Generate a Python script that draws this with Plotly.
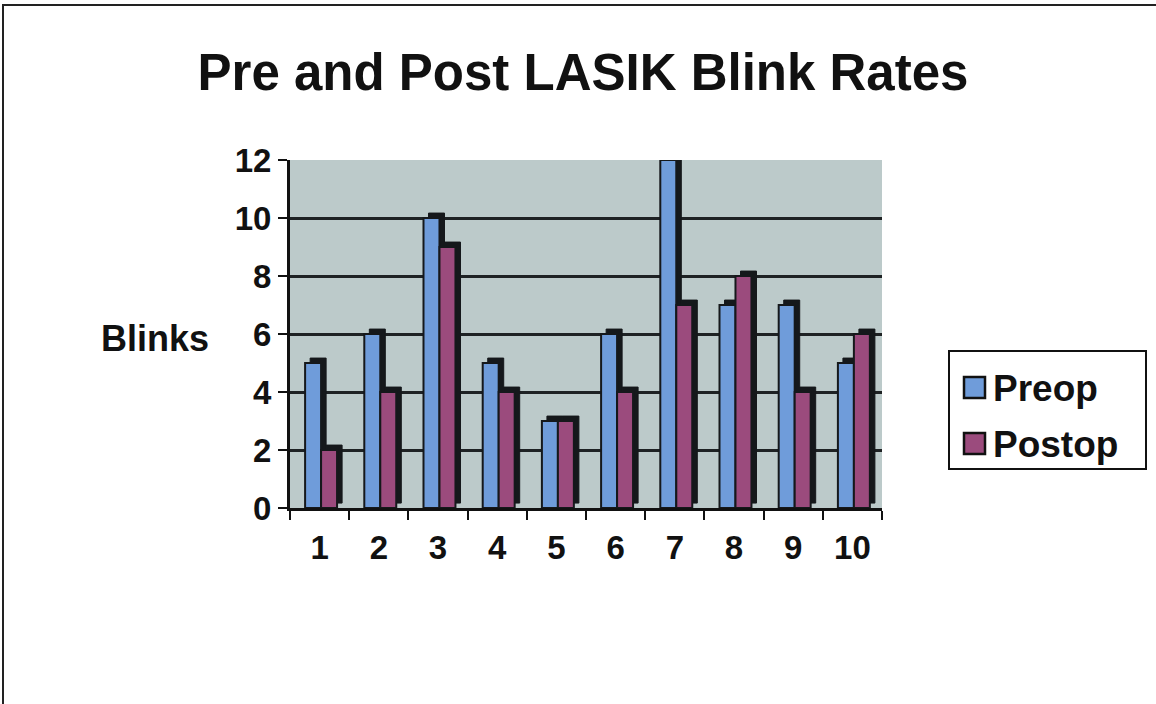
import plotly.graph_objects as go

# Blink counts per patient, before and after LASIK
patients = ["1", "2", "3", "4", "5", "6", "7", "8", "9", "10"]
preop = [5, 6, 10, 5, 3, 6, 12, 7, 7, 5]
postop = [2, 4, 9, 4, 3, 4, 7, 8, 4, 6]
y_ticks = [0, 2, 4, 6, 8, 10, 12]

W, H = 1156, 704
FONT = "Liberation Sans, Arial, sans-serif"
BLUE = "#6f9cda"
PLUM = "#9b4b7d"
EDGE = "#15181b"
WALL = "#bccaca"
INK = "#111111"

# pseudo-3D depth of the columns, in axis units
DX = 0.085
DY = 0.17
BAR_W = 0.27
OFF_PRE = -0.245
OFF_POST = 0.025

fig = go.Figure()

for vals, off, col, name in [(preop, OFF_PRE, BLUE, "Preop"), (postop, OFF_POST, PLUM, "Postop")]:
    # dark side/top face behind the front face
    fig.add_trace(go.Bar(
        x=patients, y=vals, base=DY, offset=off + DX, width=BAR_W,
        marker=dict(color=EDGE, line=dict(color=EDGE, width=1)),
        showlegend=False, hoverinfo="skip",
    ))
    # front face
    fig.add_trace(go.Bar(
        x=patients, y=vals, offset=off, width=BAR_W, name=name,
        marker=dict(color=col, line=dict(color=EDGE, width=2)),
        showlegend=False,
    ))

fig.update_layout(
    width=W, height=H,
    margin=dict(l=0, r=0, t=0, b=0, autoexpand=False),
    paper_bgcolor="white",
    plot_bgcolor=WALL,
    barmode="overlay",
    showlegend=False,
    font=dict(family=FONT, color=INK),
    title=dict(
        text="Pre and Post LASIK Blink Rates",
        x=583 / W, xanchor="center",
        y=1 - 72 / H, yanchor="middle",
        font=dict(family=FONT, size=51, weight="bold", color=INK),
        automargin=False,
    ),
    xaxis=dict(
        domain=[290 / W, 882 / W],
        type="category",
        range=[-0.5, 9.5],
        tickson="boundaries",
        ticks="outside", ticklen=9, tickwidth=2, tickcolor=INK,
        ticklabelstandoff=8,
        showline=True, linecolor=INK, linewidth=3,
        showgrid=False,
        automargin=False,
        tickfont=dict(family=FONT, size=33, weight="bold", color=INK),
    ),
    yaxis=dict(
        domain=[1 - 508 / H, 1 - 160 / H],
        range=[0, 12],
        tickvals=y_ticks,
        ticks="outside", ticklen=9, tickwidth=2, tickcolor=INK,
        showline=True, linecolor=INK, linewidth=3,
        showgrid=True, gridcolor="#1e2224", gridwidth=3,
        zeroline=False,
        automargin=False,
        tickfont=dict(family=FONT, size=33, weight="bold", color=INK),
    ),
)

shapes = []
annotations = []

# outer chart frame
shapes.append(dict(type="rect", xref="paper", yref="paper",
                   x0=3 / W, x1=1.02, y0=-0.02, y1=1 - 5 / H,
                   line=dict(color="#222222", width=2), layer="below"))

# axis title
annotations.append(dict(text="Blinks", xref="paper", yref="paper",
                        x=155 / W, y=1 - 338 / H, xanchor="center", yanchor="middle",
                        showarrow=False,
                        font=dict(family=FONT, size=36, weight="bold", color=INK)))

# legend box
shapes.append(dict(type="rect", xref="paper", yref="paper",
                   x0=949 / W, x1=1146 / W, y0=1 - 469 / H, y1=1 - 351 / H,
                   line=dict(color=INK, width=2), fillcolor="white"))
for label, col, yc in [("Preop", BLUE, 388), ("Postop", PLUM, 444)]:
    shapes.append(dict(type="rect", xref="paper", yref="paper",
                       x0=964 / W, x1=985 / W, y0=1 - (yc + 10) / H, y1=1 - (yc - 11) / H,
                       line=dict(color=INK, width=2.5), fillcolor=col))
    annotations.append(dict(text=label, xref="paper", yref="paper",
                            x=991 / W, y=1 - yc / H, xanchor="left", yanchor="middle",
                            showarrow=False,
                            font=dict(family=FONT, size=37, weight="bold", color=INK)))

fig.update_layout(shapes=shapes, annotations=annotations)

fig.write_html("out.html")
